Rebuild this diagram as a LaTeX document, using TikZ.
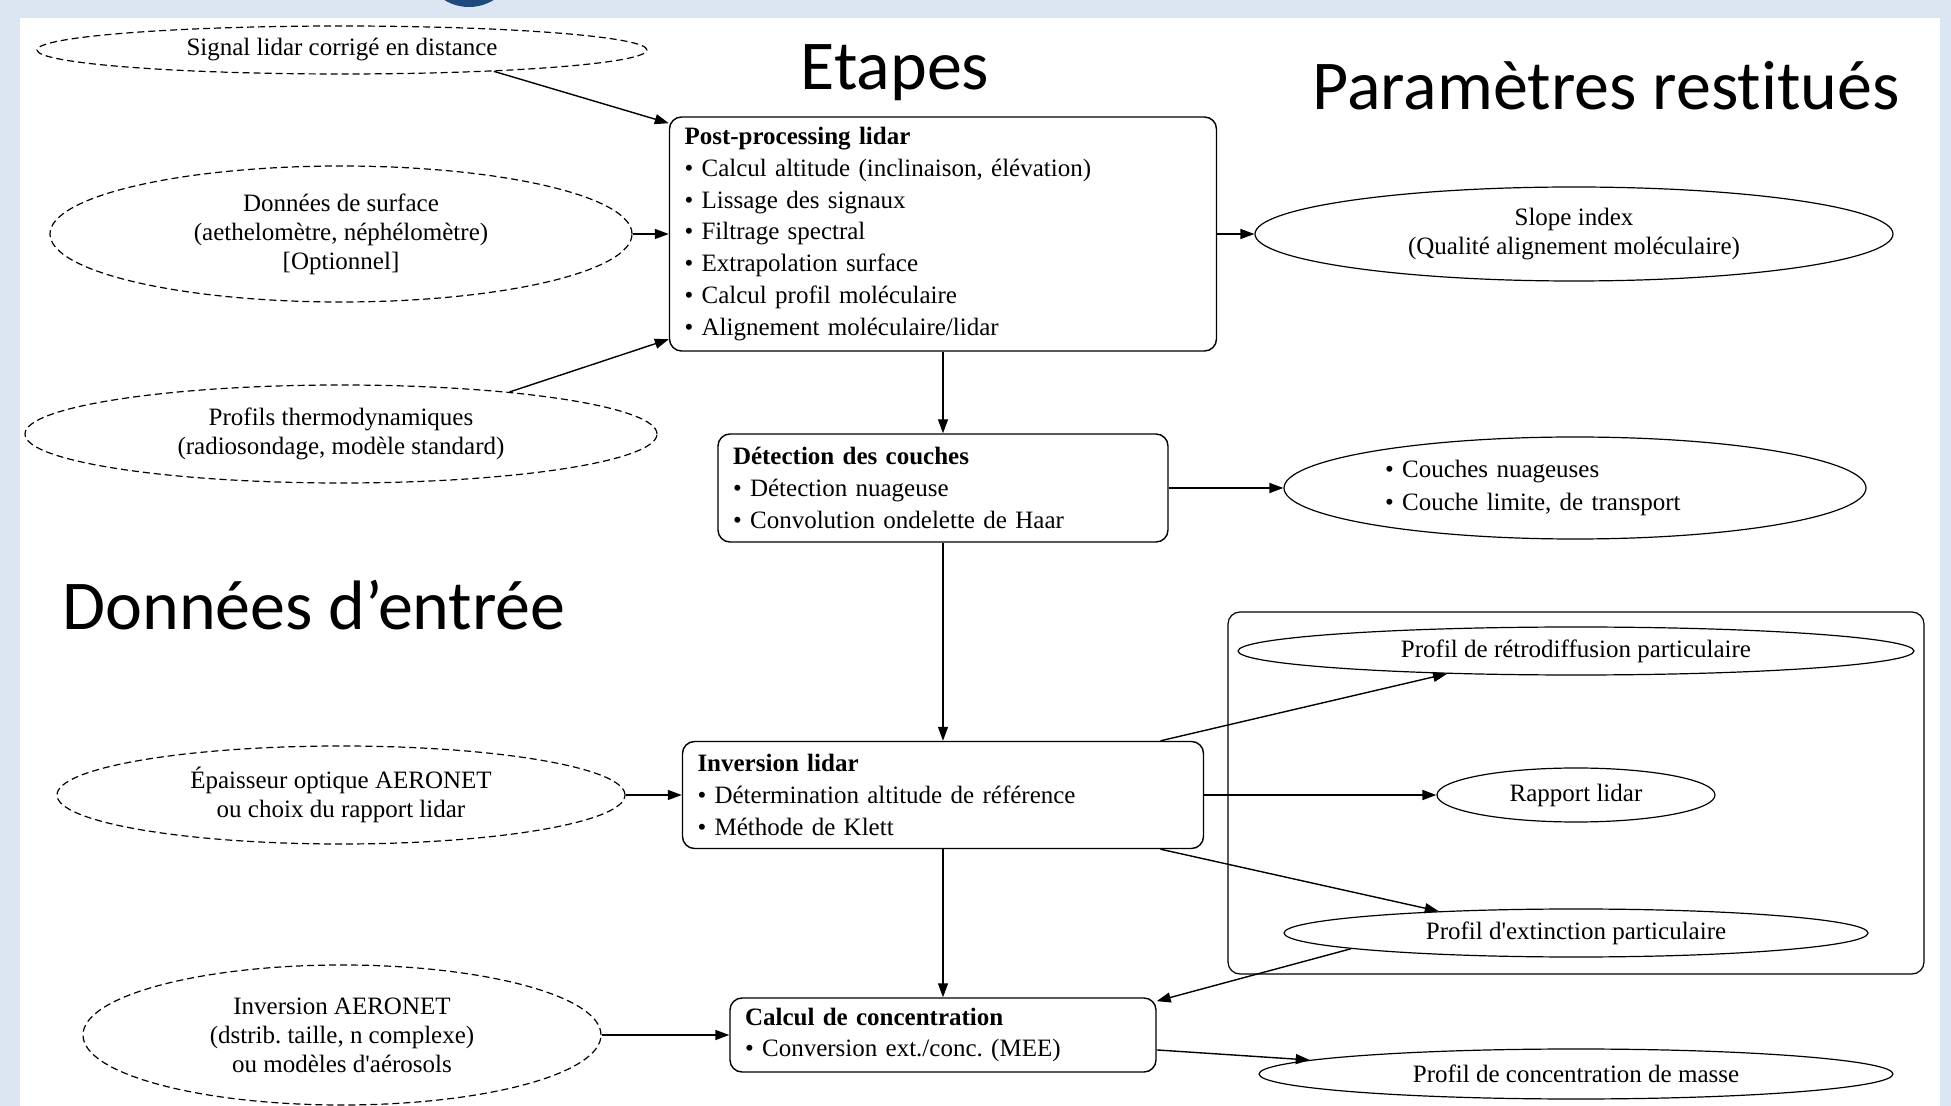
\documentclass[tikz,border=0pt]{standalone}
\usepackage{fontspec}
\setmainfont{Liberation Serif}
\newfontfamily\titlefont[Ligatures=NoCommon]{Carlito}
\usetikzlibrary{shapes.geometric,arrows.meta}
\definecolor{bandblue}{RGB}{220,230,242}
\definecolor{dotblue}{RGB}{31,73,125}
\frenchspacing
\newcommand\graphtext{\fontsize{12.5pt}{15.85pt}\selectfont}
\newcommand\ovaltext{\fontsize{12.5pt}{14.5pt}\selectfont}
\newcommand\listtext{\fontsize{12.5pt}{16.8pt}\selectfont}
\newcommand\bigtitle{\titlefont\fontsize{35pt}{42pt}\selectfont}

\begin{document}
\begin{tikzpicture}[x=0.5pt, y=-0.5pt, font=\graphtext,
  stepbox/.style={draw, rounded corners=6pt, line width=0.7pt, align=left, inner xsep=7.5pt, inner ysep=0pt},
  inputell/.style={draw, ellipse, dash pattern=on 3.5pt off 2pt, line width=0.6pt, inner sep=0pt, align=center, font=\ovaltext},
  outell/.style={draw, ellipse, line width=0.6pt, inner sep=0pt, align=center, font=\ovaltext},
  flow/.style={-{Triangle[length=7pt,width=5pt]}, line width=0.7pt},
  heading/.style={font=\bigtitle, anchor=base}]
  \useasboundingbox (0,0) rectangle (1951,1106);
  \fill[bandblue] (0,0) rectangle (1951,1106);
  \fill[white] (20,18) rectangle (1940,1106);
  \fill[dotblue] (469,-40) circle (23.5pt);

  \node[heading] (etapes) at (895,90) {Etapes};
  \node[heading] (params) at (1606,110) {Paramètres restitués};
  \node[heading] (entree) at (314,630) {Données d’entrée};

  \node[stepbox, text width=258.5pt, minimum height=117pt] (post) at (943,234)
    {\textbf{Post-processing lidar}\\• Calcul altitude (inclinaison, élévation)\\• Lissage des signaux\\• Filtrage spectral\\• Extrapolation surface\\• Calcul profil moléculaire\\• Alignement moléculaire/lidar};
  \node[stepbox, text width=210pt, minimum height=54pt] (couches) at (943,488)
    {\textbf{Détection des couches}\\• Détection nuageuse\\• Convolution ondelette de Haar};
  \node[stepbox, text width=245.5pt, minimum height=53.5pt] (inversion) at (943,795)
    {\textbf{Inversion lidar}\\• Détermination altitude de référence\\• Méthode de Klett};
  \node[stepbox, text width=198pt, minimum height=37pt] (concentration) at (943,1035)
    {\textbf{Calcul de concentration}\\• Conversion ext./conc. (MEE)};

  \node[inputell, minimum width=305pt, minimum height=24pt] (signal) at (342,50)
    {Signal lidar corrigé en distance};
  \node[inputell, minimum width=291pt, minimum height=68pt] (surface) at (341,234)
    {Données de surface\\(aethelomètre, néphélomètre)\\{[Optionnel]}};
  \node[inputell, minimum width=316pt, minimum height=49pt] (thermo) at (341,434)
    {Profils thermodynamiques\\(radiosondage, modèle standard)};
  \node[inputell, minimum width=284pt, minimum height=49pt] (aod) at (341,795)
    {Épaisseur optique AERONET\\ou choix du rapport lidar};
  \node[inputell, minimum width=259pt, minimum height=70pt] (aeronet) at (342,1035)
    {Inversion AERONET\\(dstrib. taille, n complexe)\\ou modèles d\textquotesingle aérosols};

  \draw[line width=0.6pt, rounded corners=6pt] (1228,612) rectangle (1924,974);

  \node[outell, minimum width=319pt, minimum height=47pt] (slope) at (1574,234)
    {Slope index\\(Qualité alignement moléculaire)};
  \node[outell, align=left, font=\listtext, text width=190pt, minimum width=291pt, minimum height=51pt] (nuages) at (1575,488)
    {• Couches nuageuses\\• Couche limite, de transport};
  \node[outell, minimum width=338pt, minimum height=24pt] (retro) at (1576,651)
    {Profil de rétrodiffusion particulaire};
  \node[outell, minimum width=139pt, minimum height=27pt] (rapport) at (1576,795)
    {Rapport lidar};
  \node[outell, minimum width=292pt, minimum height=24pt] (extinction) at (1576,933)
    {Profil d\textquotesingle extinction particulaire};
  \node[outell, minimum width=317pt, minimum height=25pt] (masse) at (1576,1074)
    {Profil de concentration de masse};

  \draw[flow] (signal.-8.5) -- (post.158);
  \draw[flow] (surface.east) -- (post.west);
  \draw[flow] (thermo.14.9) -- (post.201.4);
  \draw[flow] (post.east) -- (slope.west);
  \draw[flow] (post.south) -- (couches.north);
  \draw[flow] (couches.east) -- (nuages.west);
  \draw[flow] (couches.south) -- (inversion.north);
  \draw[flow] (aod.east) -- (inversion.west);
  \draw[flow] (inversion.14.5) -- (retro.-170.5);
  \draw[flow] (inversion.east) -- (rapport.west);
  \draw[flow] (inversion.-14) -- (extinction.171.6);
  \draw[flow] (extinction.-176.3) -- (concentration.9.3);
  \draw[flow] (inversion.south) -- (concentration.north);
  \draw[flow] (aeronet.east) -- (concentration.west);
  \draw[flow] (concentration.-4) -- (masse.177.2);
\end{tikzpicture}
\end{document}
